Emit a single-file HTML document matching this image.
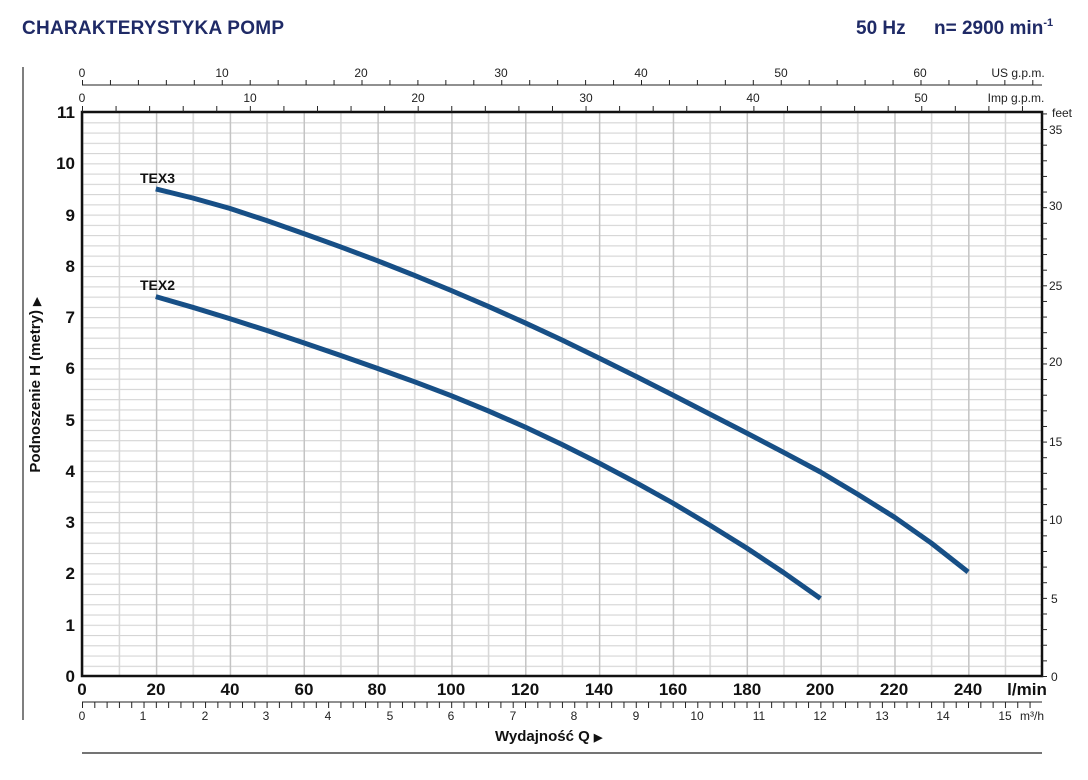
<!DOCTYPE html>
<html><head><meta charset="utf-8"><style>
html,body{margin:0;padding:0;background:#fff;}
svg{display:block;font-family:"Liberation Sans",sans-serif;}
</style></head><body>
<svg width="1088" height="780" viewBox="0 0 1088 780" xmlns="http://www.w3.org/2000/svg">
<defs>
<pattern id="hg" x="0" y="676" width="20" height="10.254" patternUnits="userSpaceOnUse">
<line x1="0" y1="0.5" x2="20" y2="0.5" stroke="#d4d4d4" stroke-width="1.3"/></pattern>
<pattern id="vg" x="82" y="0" width="73.84" height="20" patternUnits="userSpaceOnUse">
<line x1="0.5" y1="0" x2="0.5" y2="20" stroke="#c4c4c4" stroke-width="2"/>
<line x1="37.4" y1="0" x2="37.4" y2="20" stroke="#d6d6d6" stroke-width="1.5"/></pattern>
<pattern id="usT" x="82" y="0" width="27.95" height="20" patternUnits="userSpaceOnUse">
<line x1="0.5" y1="0" x2="0.5" y2="20" stroke="#222" stroke-width="1"/></pattern>
<pattern id="impT" x="82" y="0" width="33.57" height="20" patternUnits="userSpaceOnUse">
<line x1="0.5" y1="0" x2="0.5" y2="20" stroke="#222" stroke-width="1"/></pattern>
<pattern id="m3T" x="82" y="0" width="12.306" height="20" patternUnits="userSpaceOnUse">
<line x1="0.5" y1="0" x2="0.5" y2="20" stroke="#222" stroke-width="1"/></pattern>
<pattern id="ftT" x="0" y="676" width="20" height="15.627" patternUnits="userSpaceOnUse">
<line x1="0" y1="0.5" x2="20" y2="0.5" stroke="#222" stroke-width="1"/></pattern>
</defs>

<text x="22" y="34" font-size="19" font-weight="bold" fill="#1f2a66" textLength="262">CHARAKTERYSTYKA POMP</text>
<text x="856" y="34" font-size="19" font-weight="bold" fill="#1f2a66">50 Hz</text>
<text x="934" y="34" font-size="19" font-weight="bold" fill="#1f2a66">n= 2900 min<tspan font-size="11" dy="-8">-1</tspan></text>

<line x1="23" y1="67" x2="23" y2="720" stroke="#555" stroke-width="1.5"/>

<rect x="82" y="112" width="960" height="564" fill="url(#hg)"/>
<rect x="82" y="112" width="960" height="564" fill="url(#vg)"/>
<rect x="82" y="112" width="960" height="564" fill="none" stroke="#111" stroke-width="2.5"/>

<line x1="82" y1="85" x2="1042" y2="85" stroke="#222" stroke-width="1"/>
<rect x="82" y="80" width="962" height="5" fill="url(#usT)"/>
<g font-size="12" fill="#222" text-anchor="middle">
<text x="82" y="77">0</text><text x="222" y="77">10</text><text x="361" y="77">20</text><text x="501" y="77">30</text><text x="641" y="77">40</text><text x="781" y="77">50</text><text x="920" y="77">60</text>
<text x="1018" y="77">US g.p.m.</text>
</g>
<rect x="82" y="106" width="962" height="6" fill="url(#impT)"/>
<g font-size="12" fill="#222" text-anchor="middle">
<text x="82" y="102">0</text><text x="250" y="102">10</text><text x="418" y="102">20</text><text x="586" y="102">30</text><text x="753" y="102">40</text><text x="921" y="102">50</text>
<text x="1016" y="102">Imp g.p.m.</text>
</g>

<rect x="1042" y="112" width="5" height="565" fill="url(#ftT)"/>
<g font-size="12" fill="#222">
<text x="1052" y="117">feet</text>
<text x="1049" y="134">35</text><text x="1049" y="210">30</text><text x="1049" y="290">25</text><text x="1049" y="366">20</text><text x="1049" y="446">15</text><text x="1049" y="524">10</text><text x="1051" y="603">5</text><text x="1051" y="681">0</text>
</g>

<g font-size="17" font-weight="bold" fill="#111" text-anchor="end">
<text x="75" y="682">0</text><text x="75" y="631">1</text><text x="75" y="579">2</text><text x="75" y="528">3</text><text x="75" y="477">4</text><text x="75" y="426">5</text><text x="75" y="374">6</text><text x="75" y="323">7</text><text x="75" y="272">8</text><text x="75" y="221">9</text><text x="75" y="169">10</text><text x="75" y="118">11</text>
</g>
<text transform="translate(40,385) rotate(-90)" font-size="15" font-weight="bold" fill="#111" text-anchor="middle">Podnoszenie H (metry) <tspan font-size="11">▶</tspan></text>

<g font-size="17" font-weight="bold" fill="#111" text-anchor="middle">
<text x="82" y="695">0</text><text x="156" y="695">20</text><text x="230" y="695">40</text><text x="304" y="695">60</text><text x="377" y="695">80</text><text x="451" y="695">100</text><text x="525" y="695">120</text><text x="599" y="695">140</text><text x="673" y="695">160</text><text x="747" y="695">180</text><text x="820" y="695">200</text><text x="894" y="695">220</text><text x="968" y="695">240</text>
<text x="1027" y="695">l/min</text>
</g>

<line x1="82" y1="702" x2="1042" y2="702" stroke="#222" stroke-width="1"/>
<rect x="82" y="702" width="952" height="6" fill="url(#m3T)"/>
<g font-size="12" fill="#222" text-anchor="middle">
<text x="82" y="720">0</text><text x="143" y="720">1</text><text x="205" y="720">2</text><text x="266" y="720">3</text><text x="328" y="720">4</text><text x="390" y="720">5</text><text x="451" y="720">6</text><text x="513" y="720">7</text><text x="574" y="720">8</text><text x="636" y="720">9</text><text x="697" y="720">10</text><text x="759" y="720">11</text><text x="820" y="720">12</text><text x="882" y="720">13</text><text x="943" y="720">14</text><text x="1005" y="720">15</text>
<text x="1032" y="720">m³/h</text>
</g>
<text x="495" y="741" font-size="15" font-weight="bold" fill="#111">Wydajność Q <tspan font-size="11">▶</tspan></text>
<line x1="82" y1="753" x2="1042" y2="753" stroke="#222" stroke-width="1.3"/>

<polyline fill="none" stroke="#174f86" stroke-width="5" stroke-linecap="butt" stroke-linejoin="round"
points="155.8,188.9 192.7,198 229.7,208.4 266.6,220.5 303.5,233.5 340.4,246.8 377.4,260.7 414.3,275.3 451.2,290.5 488.1,306.3 525,322.8 562,340 598.9,358 635.8,376.3 672.7,395 709.6,414 746.6,433 783.5,452.3 820.4,472 857.3,494 894.2,517 931.2,543 968.1,572"/>
<polyline fill="none" stroke="#174f86" stroke-width="5" stroke-linecap="butt" stroke-linejoin="round"
points="155.8,296.6 192.7,307.3 229.7,318.6 266.6,330.4 303.5,342.7 340.4,355.4 377.4,368.4 414.3,381.7 451.2,395.7 488.1,410.8 525,427 562,444.5 598.9,463 635.8,482.5 672.7,503 709.6,525 746.6,548 783.5,572.5 820.4,598.5"/>
<text x="140" y="183" font-size="14" font-weight="bold" fill="#111">TEX3</text>
<text x="140" y="290" font-size="14" font-weight="bold" fill="#111">TEX2</text>
</svg>
</body></html>
